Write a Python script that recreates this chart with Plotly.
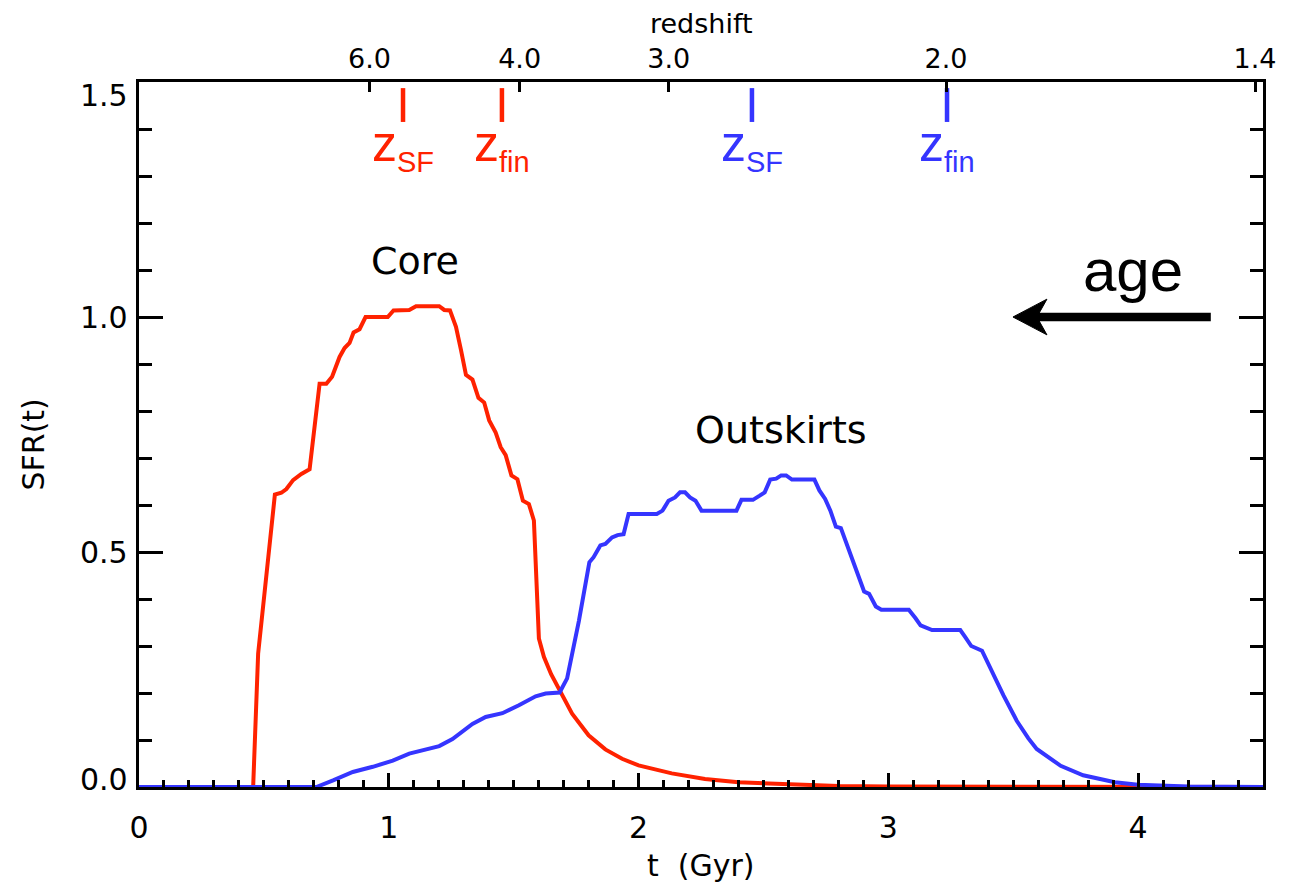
import plotly.graph_objects as go

# Normalised star formation rate versus cosmic time (Gyr)
core_t = [0.0, 0.457, 0.477, 0.511, 0.544, 0.570, 0.590, 0.617, 0.650, 0.683, 0.723, 0.750,
          0.773, 0.803, 0.823, 0.843, 0.859, 0.883, 0.907, 0.996, 1.019, 1.082, 1.109,
          1.202, 1.222, 1.245, 1.269, 1.289, 1.309, 1.335, 1.359, 1.382, 1.402, 1.428,
          1.448, 1.468, 1.491, 1.515, 1.537, 1.561, 1.581, 1.601, 1.621, 1.650, 1.688,
          1.734, 1.800, 1.867, 1.934, 2.000, 2.133, 2.266, 2.400, 2.600, 2.800, 3.000,
          3.500, 4.500]
core_sfr = [0.0, 0.0, 0.284, 0.450, 0.622, 0.626, 0.634, 0.653, 0.666, 0.676, 0.858, 0.858,
            0.873, 0.915, 0.934, 0.945, 0.967, 0.974, 1.000, 1.000, 1.014, 1.015, 1.023,
            1.023, 1.015, 1.014, 0.979, 0.930, 0.877, 0.867, 0.828, 0.818, 0.780, 0.754,
            0.723, 0.706, 0.663, 0.655, 0.609, 0.602, 0.567, 0.316, 0.277, 0.240, 0.201,
            0.156, 0.110, 0.080, 0.060, 0.046, 0.029, 0.017, 0.010, 0.005, 0.002, 0.001,
            0.0, 0.0]

outskirts_t = [0.0, 0.710, 0.777, 0.856, 0.936, 1.016, 1.082, 1.149, 1.202, 1.255, 1.335,
               1.388, 1.455, 1.521, 1.588, 1.628, 1.684, 1.714, 1.734, 1.761, 1.803, 1.820,
               1.847, 1.867, 1.894, 1.916, 1.940, 1.960, 2.073, 2.096, 2.120, 2.146, 2.166,
               2.186, 2.206, 2.228, 2.252, 2.392, 2.412, 2.458, 2.485, 2.505, 2.527, 2.551,
               2.571, 2.591, 2.614, 2.704, 2.724, 2.747, 2.768, 2.790, 2.810, 2.837, 2.870,
               2.903, 2.923, 2.950, 2.972, 3.082, 3.109, 3.129, 3.175, 3.288, 3.308, 3.332,
               3.375, 3.414, 3.461, 3.514, 3.560, 3.594, 3.690, 3.780, 3.907, 4.000, 4.200,
               4.500]
outskirts_sfr = [0.0, 0.0, 0.014, 0.032, 0.043, 0.056, 0.071, 0.081, 0.087, 0.102, 0.134,
                 0.149, 0.157, 0.174, 0.193, 0.199, 0.201, 0.231, 0.280, 0.353, 0.478, 0.489,
                 0.514, 0.517, 0.531, 0.536, 0.538, 0.581, 0.581, 0.588, 0.609, 0.616, 0.627,
                 0.627, 0.616, 0.609, 0.588, 0.588, 0.611, 0.611, 0.620, 0.627, 0.654, 0.656,
                 0.663, 0.663, 0.654, 0.654, 0.631, 0.613, 0.588, 0.554, 0.551, 0.513, 0.466,
                 0.416, 0.411, 0.384, 0.377, 0.377, 0.359, 0.344, 0.334, 0.334, 0.319, 0.300,
                 0.290, 0.245, 0.195, 0.141, 0.104, 0.081, 0.045, 0.025, 0.010, 0.005, 0.001,
                 0.0]

# Redshift scale along the top axis (cosmic time of each labelled redshift)
redshift_t = [0.923, 1.524, 2.121, 3.231, 4.468]
redshift_labels = ["6.0", "4.0", "3.0", "2.0", "1.4"]

# Onset (z_SF) and end (z_fin) of star formation for each component
core_epoch_t = [1.057, 1.453]
outskirts_epoch_t = [2.454, 3.235]
epoch_subscripts = ["SF", "fin"]

x_ticks = [0, 1, 2, 3, 4]
y_ticks = [0.0, 0.5, 1.0, 1.5]
y_tick_labels = ["0.0", "0.5", "1.0", "1.5"]

RED = "#FF2200"
BLUE = "#3535FF"
FONT = "DejaVu Sans"

fig = go.Figure()

fig.add_trace(go.Scatter(x=core_t, y=core_sfr, mode="lines",
                         line=dict(color=RED, width=4), showlegend=False))
fig.add_trace(go.Scatter(x=outskirts_t, y=outskirts_sfr, mode="lines",
                         line=dict(color=BLUE, width=4), showlegend=False))

# Epoch markers hanging from the redshift axis
def epoch_segments(times):
    xs, ys = [], []
    for t in times:
        xs += [t, t, None]
        ys += [1.487, 1.415, None]
    return xs, ys

for times, colour in [(core_epoch_t, RED), (outskirts_epoch_t, BLUE)]:
    xs, ys = epoch_segments(times)
    fig.add_trace(go.Scatter(x=xs, y=ys, xaxis="x2", yaxis="y", mode="lines",
                             line=dict(color=colour, width=4.5), showlegend=False,
                             hoverinfo="skip"))
    for t, sub in zip(times, epoch_subscripts):
        label = "z<sub><span style='font-size:29px'>" + sub + "</span></sub>"
        fig.add_annotation(x=t, y=1.415, xref="x2", yref="y", text=label,
                           showarrow=False, yanchor="top", xanchor="center", yshift=8,
                           font=dict(family="Liberation Sans", size=50, color=colour))

# y tick labels
for v, lab in zip(y_ticks, y_tick_labels):
    shift = {0.0: 8, 1.5: -13}.get(v, 0)
    fig.add_annotation(x=0, xref="paper", y=v, yref="y", text=lab, showarrow=False,
                       xanchor="right", yanchor="middle", xshift=-9, yshift=shift,
                       font=dict(family=FONT, size=30, color="black"))

# Component names
fig.add_annotation(x=1.105, y=1.119, text="Core", showarrow=False,
                   font=dict(family=FONT, size=38, color="black"))
fig.add_annotation(x=2.57, y=0.76, text="Outskirts", showarrow=False,
                   font=dict(family=FONT, size=38, color="black"))

# "age" arrow pointing to earlier times
fig.add_annotation(x=3.979, y=1.10, text="age", showarrow=False,
                   font=dict(family="Liberation Sans", size=60, color="black"))
fig.add_shape(type="line", x0=4.291, x1=3.58, y0=1.0, y1=1.0,
              line=dict(color="black", width=8.5))
fig.add_shape(type="path", path="M 3.499 1.0 L 3.635 1.038 L 3.595 1.0 L 3.635 0.962 Z",
              fillcolor="black", line=dict(color="black", width=1))

# Axis titles
fig.add_annotation(x=0.5, xref="paper", y=0, yref="paper", yanchor="middle",
                   yshift=-78, text="t  (Gyr)", showarrow=False,
                   font=dict(family=FONT, size=30, color="black"))
fig.add_annotation(x=0.5, xref="paper", y=1, yref="paper", yanchor="middle",
                   yshift=59, text="redshift", showarrow=False,
                   font=dict(family=FONT, size=27, color="black"))
fig.add_annotation(x=0, xref="paper", y=0.5, yref="paper", xanchor="center",
                   xshift=-106, yshift=-10, textangle=-90, text="SFR(t)", showarrow=False,
                   font=dict(family=FONT, size=30, color="black"))

fig.update_layout(
    width=1306, height=888,
    margin=dict(l=139, r=43, t=82, b=101),
    paper_bgcolor="white", plot_bgcolor="white",
    showlegend=False,
    xaxis=dict(range=[0, 4.5], tickvals=x_ticks, ticktext=[str(v) for v in x_ticks],
               ticks="inside", ticklen=14, tickwidth=2.5, tickcolor="black",
               minor=dict(dtick=0.1, ticks="inside", ticklen=7, tickwidth=2.5,
                          tickcolor="black", showgrid=False),
               showline=True, linecolor="black", linewidth=3, mirror=True,
               showgrid=False, zeroline=False, ticklabelstandoff=12,
               tickfont=dict(family=FONT, size=30, color="black")),
    xaxis2=dict(range=[0, 4.5], overlaying="x", side="top", anchor="y",
                tickvals=redshift_t, ticktext=redshift_labels,
                ticks="inside", ticklen=10, tickwidth=2.5, tickcolor="black",
                showline=True, linecolor="black", linewidth=3,
                showgrid=False, zeroline=False, ticklabelstandoff=0,
                tickfont=dict(family=FONT, size=27, color="black")),
    yaxis=dict(range=[0, 1.5], tickvals=y_ticks, showticklabels=False,
               ticks="inside", ticklen=24, tickwidth=2.5, tickcolor="black",
               minor=dict(dtick=0.1, ticks="inside", ticklen=13, tickwidth=2.5,
                          tickcolor="black", showgrid=False),
               showline=True, linecolor="black", linewidth=3, mirror="ticks",
               showgrid=False, zeroline=False),
)

fig.write_html("out.html")
